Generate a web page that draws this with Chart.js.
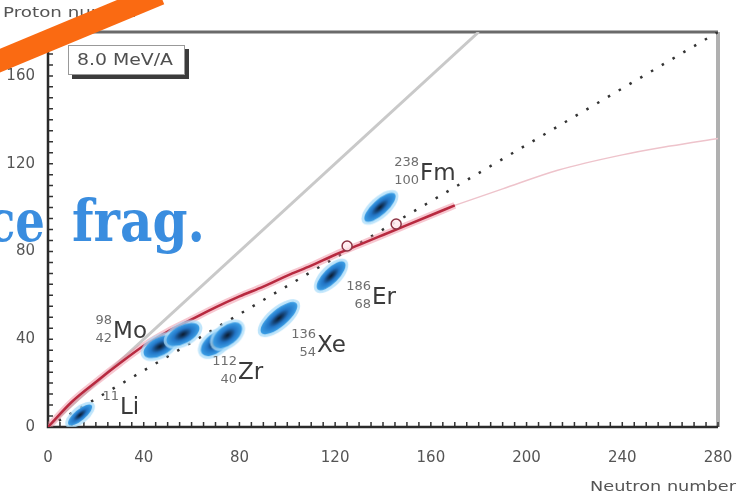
<!DOCTYPE html>
<html lang="en">
<head>
    <meta charset="UTF-8">
    <title>Proton vs neutron number</title>
    <script src="https://cdn.jsdelivr.net/npm/chart.js"></script>
    <style>
        body { margin: 0; background: #fff; }
        #chart { display: block; }
    </style>
</head>
<body>
    <canvas id="chart" width="742" height="493"></canvas>

    <script>
        // axis ticks
        const xTicks = [0, 40, 80, 120, 160, 200, 240, 280];
        const yTicks = [0, 40, 80, 120, 160];

        // valley of stability (red)
        const stabN = [0, 10, 20, 30, 40, 50, 60, 70, 80, 90, 100, 110, 120, 130, 140, 150, 160, 170];
        const stabZ = [0, 11.5, 20.5, 29, 37, 43.5, 49, 54.5, 59.5, 64, 69, 73.5, 78.5, 83, 87.5, 92, 96.5, 101];
        // faint continuation
        const stabExtN = [170, 190, 213, 240, 260, 280];
        const stabExtZ = [101, 108.5, 117, 124, 128, 131.5];

        // N = Z line and the dotted line
        const nzN = [0, 180];
        const nzZ = [0, 180];
        const dotN = [0, 280];
        const dotZ = [0, 180];

        // open circles on the curve
        const circN = [125, 145.5];
        const circZ = [82.5, 92.5];

        // fragment blobs (centres)
        const blobN = [13.4, 46.8, 56.4, 70, 75, 96.5, 118.3, 138.7];
        const blobZ = [5.5, 36.7, 42.2, 38.2, 41.8, 49.6, 68.9, 100.1];
        // blob shapes in px: length, width, angle
        const blobLen = [30, 36, 36, 34, 34, 46, 38, 40];
        const blobWid = [11, 18, 18, 19, 19, 17, 15, 15];
        const blobAng = [-40, -28, -28, -38, -38, -40, -45, -42];

        // nuclide labels: symbol left/baseline in data coords
        const labelN = [30.1, 27.2, 79.4, 112.4, 135.4, 155.5];
        const labelZ = [6.0, 40.4, 22.0, 34.4, 56.0, 112.5];
        const labelMass = ['11', '98', '112', '136', '186', '238'];
        const labelCharge = ['', '42', '40', '54', '68', '100'];
        const labelSym = ['Li', 'Mo', 'Zr', 'Xe', 'Er', 'Fm'];

        function pts(xs, ys) {
            return xs.map((x, i) => ({ x: x, y: ys[i] }));
        }

        function blobImage(len, wid, angle) {
            const size = Math.ceil(len + 14);
            const c = document.createElement('canvas');
            c.width = size;
            c.height = size;
            const g = c.getContext('2d');
            g.translate(size / 2, size / 2);
            g.rotate(angle * Math.PI / 180);
            // light halo
            g.save();
            g.scale(len / 2 + 3, wid / 2 + 3);
            g.beginPath();
            g.arc(0, 0, 1, 0, Math.PI * 2);
            g.fillStyle = 'rgba(170,220,250,0.75)';
            g.fill();
            g.restore();
            // body
            g.save();
            g.scale(len / 2, wid / 2);
            const grad = g.createRadialGradient(0, 0, 0, 0, 0, 1);
            grad.addColorStop(0, '#0b1a2c');
            grad.addColorStop(0.25, '#143f6e');
            grad.addColorStop(0.55, '#2275c6');
            grad.addColorStop(1, '#3c9fe6');
            g.beginPath();
            g.arc(0, 0, 1, 0, Math.PI * 2);
            g.fillStyle = grad;
            g.fill();
            g.restore();
            return c;
        }

        const blobImgs = blobLen.map((l, i) => blobImage(l, blobWid[i], blobAng[i]));

        function fitText(ctx, text, x, y, w, align) {
            const m = ctx.measureText(text).width;
            const sx = w / m;
            ctx.save();
            ctx.translate(x, y);
            ctx.scale(sx, 1);
            ctx.textAlign = 'left';
            let off = 0;
            if (align === 'center') off = -m / 2;
            if (align === 'right') off = -m;
            ctx.fillText(text, off, 0);
            ctx.restore();
        }

        // frame + inward minor ticks
        const framePlugin = {
            id: 'frame',
            beforeDatasetsDraw(chart) {
                const { ctx, chartArea: a, scales: { x, y } } = chart;
                ctx.save();
                // top border
                ctx.strokeStyle = '#6a6a6a';
                ctx.lineWidth = 3;
                ctx.beginPath();
                ctx.moveTo(a.left, a.top);
                ctx.lineTo(a.right, a.top);
                ctx.stroke();
                // right border
                ctx.strokeStyle = '#b0b0b0';
                ctx.lineWidth = 4;
                ctx.beginPath();
                ctx.moveTo(a.right, a.top);
                ctx.lineTo(a.right, a.bottom);
                ctx.stroke();
                // ticks
                ctx.strokeStyle = '#333';
                ctx.lineWidth = 1.5;
                ctx.beginPath();
                for (let v = 0; v <= 280; v += 5) {
                    const px = x.getPixelForValue(v);
                    ctx.moveTo(px, a.bottom);
                    ctx.lineTo(px, a.bottom - 5);
                }
                for (let v = 0; v <= 180; v += 5) {
                    const py = y.getPixelForValue(v);
                    ctx.moveTo(a.left, py);
                    ctx.lineTo(a.left + 5, py);
                }
                ctx.stroke();
                // axes
                ctx.strokeStyle = '#2a2a2a';
                ctx.lineWidth = 2.5;
                ctx.beginPath();
                ctx.moveTo(a.left, a.top);
                ctx.lineTo(a.left, a.bottom);
                ctx.lineTo(a.right, a.bottom);
                ctx.stroke();
                ctx.restore();
            },
            afterDraw(chart) {
                const { ctx, scales: { x, y } } = chart;
                ctx.save();

                // nuclide labels
                ctx.textBaseline = 'alphabetic';
                labelSym.forEach((s, i) => {
                    const px = x.getPixelForValue(labelN[i]);
                    const py = y.getPixelForValue(labelZ[i]);
                    ctx.fillStyle = '#3a3a3a';
                    ctx.font = '23px "DejaVu Sans"';
                    ctx.textAlign = 'left';
                    ctx.fillText(s, px, py);
                    ctx.fillStyle = '#6e6e6e';
                    ctx.font = '13px "DejaVu Sans"';
                    ctx.textAlign = 'right';
                    ctx.fillText(labelMass[i], px - 1, py - 14);
                    if (labelCharge[i]) ctx.fillText(labelCharge[i], px - 1, py + 4);
                });

                // energy box
                ctx.fillStyle = '#3c3c3c';
                ctx.fillRect(72, 49, 117, 30);
                ctx.fillStyle = '#fff';
                ctx.fillRect(68, 45, 117, 30);
                ctx.strokeStyle = '#999';
                ctx.lineWidth = 1;
                ctx.strokeRect(68.5, 45.5, 116, 29);
                ctx.fillStyle = '#505050';
                ctx.font = '15px "DejaVu Sans"';
                ctx.textBaseline = 'middle';
                fitText(ctx, '8.0 MeV/A', 125, 61, 96, 'center');

                // axis titles
                ctx.fillStyle = '#555';
                ctx.font = '14px "DejaVu Sans"';
                ctx.textBaseline = 'alphabetic';
                fitText(ctx, 'Proton number', 3, 17, 136, 'left');
                fitText(ctx, 'Neutron number', 736, 491, 146, 'right');

                // overlay caption
                ctx.font = 'bold 58px "DejaVu Serif"';
                ctx.fillStyle = '#3a8ddf';
                ctx.shadowColor = 'rgba(255,255,255,0.95)';
                ctx.shadowBlur = 6;
                fitText(ctx, 'frag.', 72, 241, 133, 'left');
                fitText(ctx, 'ce', 45, 241, 58, 'right');
                ctx.shadowBlur = 0;

                // orange stroke
                ctx.strokeStyle = '#fa6a12';
                ctx.lineWidth = 22;
                ctx.lineCap = 'butt';
                ctx.beginPath();
                ctx.moveTo(-20, 69);
                ctx.lineTo(160, -6);
                ctx.stroke();
                ctx.restore();
            }
        };

        const ctx = document.getElementById('chart').getContext('2d');
        const chart = new Chart(ctx, {
            type: 'scatter',
            data: {
                datasets: [
                    {
                        data: pts(nzN, nzZ),
                        showLine: true, pointRadius: 0,
                        borderColor: '#c9c9c9', borderWidth: 3,
                        order: 10
                    },
                    {
                        data: pts(dotN, dotZ),
                        showLine: true, pointRadius: 0,
                        borderColor: '#333', borderWidth: 2.5,
                        borderDash: [2.5, 10],
                        order: 9
                    },
                    {
                        data: pts(stabExtN, stabExtZ),
                        showLine: true, pointRadius: 0,
                        borderColor: '#eec3cb', borderWidth: 1.5,
                        cubicInterpolationMode: 'monotone',
                        order: 8
                    },
                    {
                        data: pts(stabN, stabZ),
                        showLine: true, pointRadius: 0,
                        borderColor: 'rgba(238,130,150,0.45)', borderWidth: 7,
                        cubicInterpolationMode: 'monotone',
                        order: 7
                    },
                    {
                        data: pts(stabN, stabZ),
                        showLine: true, pointRadius: 0,
                        borderColor: '#b82a40', borderWidth: 2.5,
                        cubicInterpolationMode: 'monotone',
                        order: 6
                    },
                    {
                        data: pts(circN, circZ),
                        pointRadius: 5, pointBorderWidth: 1.5,
                        pointBorderColor: '#8c3444',
                        pointBackgroundColor: 'rgba(255,236,240,0.9)',
                        order: 5
                    },
                    {
                        data: pts(blobN, blobZ),
                        pointRadius: 4,
                        pointStyle: blobImgs,
                        order: 4
                    }
                ]
            },
            options: {
                responsive: false,
                animation: false,
                layout: { padding: { top: 32, right: 24, left: 0, bottom: 0 } },
                plugins: {
                    legend: { display: false },
                    tooltip: { enabled: false }
                },
                scales: {
                    x: {
                        type: 'linear', min: 0, max: 280,
                        afterFit(s) {
                            s.height = 66;
                            s.paddingLeft = 0;
                            s.paddingRight = 0;
                        },
                        afterBuildTicks(s) { s.ticks = xTicks.map(v => ({ value: v })); },
                        grid: { display: false, drawTicks: false },
                        border: { display: false },
                        ticks: {
                            color: '#555', padding: 22, maxRotation: 0, autoSkip: false,
                            font: { family: 'DejaVu Sans', size: 15 }
                        }
                    },
                    y: {
                        type: 'linear', min: 0, max: 180,
                        afterFit(s) {
                            s.width = 48;
                            s.paddingTop = 0;
                            s.paddingBottom = 0;
                        },
                        afterBuildTicks(s) { s.ticks = yTicks.map(v => ({ value: v })); },
                        grid: { display: false, drawTicks: false },
                        border: { display: false },
                        ticks: {
                            color: '#555', padding: 13,
                            font: { family: 'DejaVu Sans', size: 15 }
                        }
                    }
                }
            },
            plugins: [framePlugin]
        });
    </script>
</body>
</html>
